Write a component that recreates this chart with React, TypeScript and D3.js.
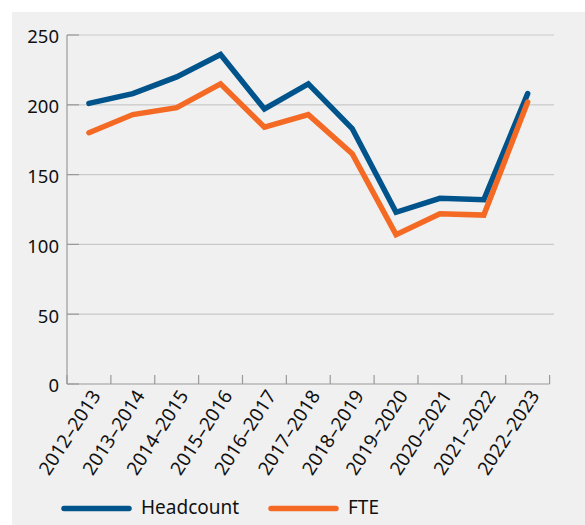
import React from "react";
import * as d3 from "d3";

const categories = [
  "2012–2013", "2013–2014", "2014–2015", "2015–2016", "2016–2017", "2017–2018",
  "2018–2019", "2019–2020", "2020–2021", "2021–2022", "2022–2023",
];
const headcount = [201, 208, 220, 236, 197, 215, 183, 123, 133, 132, 208];
const fte = [180, 193, 198, 215, 184, 193, 165, 107, 122, 121, 202];
const yTicks = [0, 50, 100, 150, 200, 250];
const seriesNames = ["Headcount", "FTE"];
const seriesColors = ["#00548b", "#f46a25"];

const W = 585;
const H = 525;
const FONT = "'Noto Sans', sans-serif";

export default function App() {
  const x = d3.scaleBand<string>().domain(categories).range([67, 549.6]);
  const y = d3.scaleLinear().domain([0, 250]).range([384, 35]);
  const line = d3
    .line<number>()
    .x((_, i) => (x(categories[i]) as number) + x.bandwidth() / 2)
    .y((d) => y(d));
  const series = [headcount, fte];
  const tickXs = categories.map((c) => x(c) as number).concat([549.6]);

  return (
    <svg
      width={W}
      height={H}
      style={{ position: "absolute", left: 0, top: 0, display: "block" }}
      fontFamily={FONT}
    >
      <rect x={0} y={0} width={W} height={H} fill="#ffffff" />
      <rect x={12} y={12} width={W - 12} height={H - 12} fill="#f0f0f0" />
      {yTicks.map((t) => (
        <g key={t}>
          {t > 0 && (
            <line x1={67} x2={554} y1={y(t)} y2={y(t)} stroke="#c9c9c9" strokeWidth={1.2} />
          )}
          <line x1={67} x2={79} y1={y(t)} y2={y(t)} stroke="#9a9a9a" strokeWidth={1.2} />
          <text x={59} y={y(t)} dy="0.45em" textAnchor="end" fontSize={18.5} fill="#111">
            {t}
          </text>
        </g>
      ))}
      <line x1={67} x2={67} y1={35} y2={384} stroke="#9a9a9a" strokeWidth={1.2} />
      <line x1={67} x2={549.6} y1={384} y2={384} stroke="#9a9a9a" strokeWidth={1.2} />
      {tickXs.map((tx, i) => (
        <line key={i} x1={tx} x2={tx} y1={375} y2={384} stroke="#9a9a9a" strokeWidth={1.2} />
      ))}
      {categories.map((c) => {
        const cx = (x(c) as number) + x.bandwidth() / 2 + 7;
        const cy = 392;
        return (
          <text
            key={c}
            x={cx}
            y={cy}
            dy="0.35em"
            textAnchor="end"
            fontSize={19}
            fill="#111"
            transform={`rotate(-57 ${cx} ${cy})`}
          >
            {c}
          </text>
        );
      })}
      {series.map((s, i) => (
        <path
          key={i}
          d={line(s) as string}
          fill="none"
          stroke={seriesColors[i]}
          strokeWidth={5.5}
          strokeLinecap="round"
          strokeLinejoin="miter"
        />
      ))}
      {seriesNames.map((n, i) => {
        const lx = i === 0 ? 64 : 271;
        return (
          <g key={n}>
            <line
              x1={lx}
              x2={lx + 65}
              y1={508.5}
              y2={508.5}
              stroke={seriesColors[i]}
              strokeWidth={5.5}
              strokeLinecap="round"
            />
            <text x={lx + 77} y={514} fontSize={19} fill="#111">
              {n}
            </text>
          </g>
        );
      })}
    </svg>
  );
}
